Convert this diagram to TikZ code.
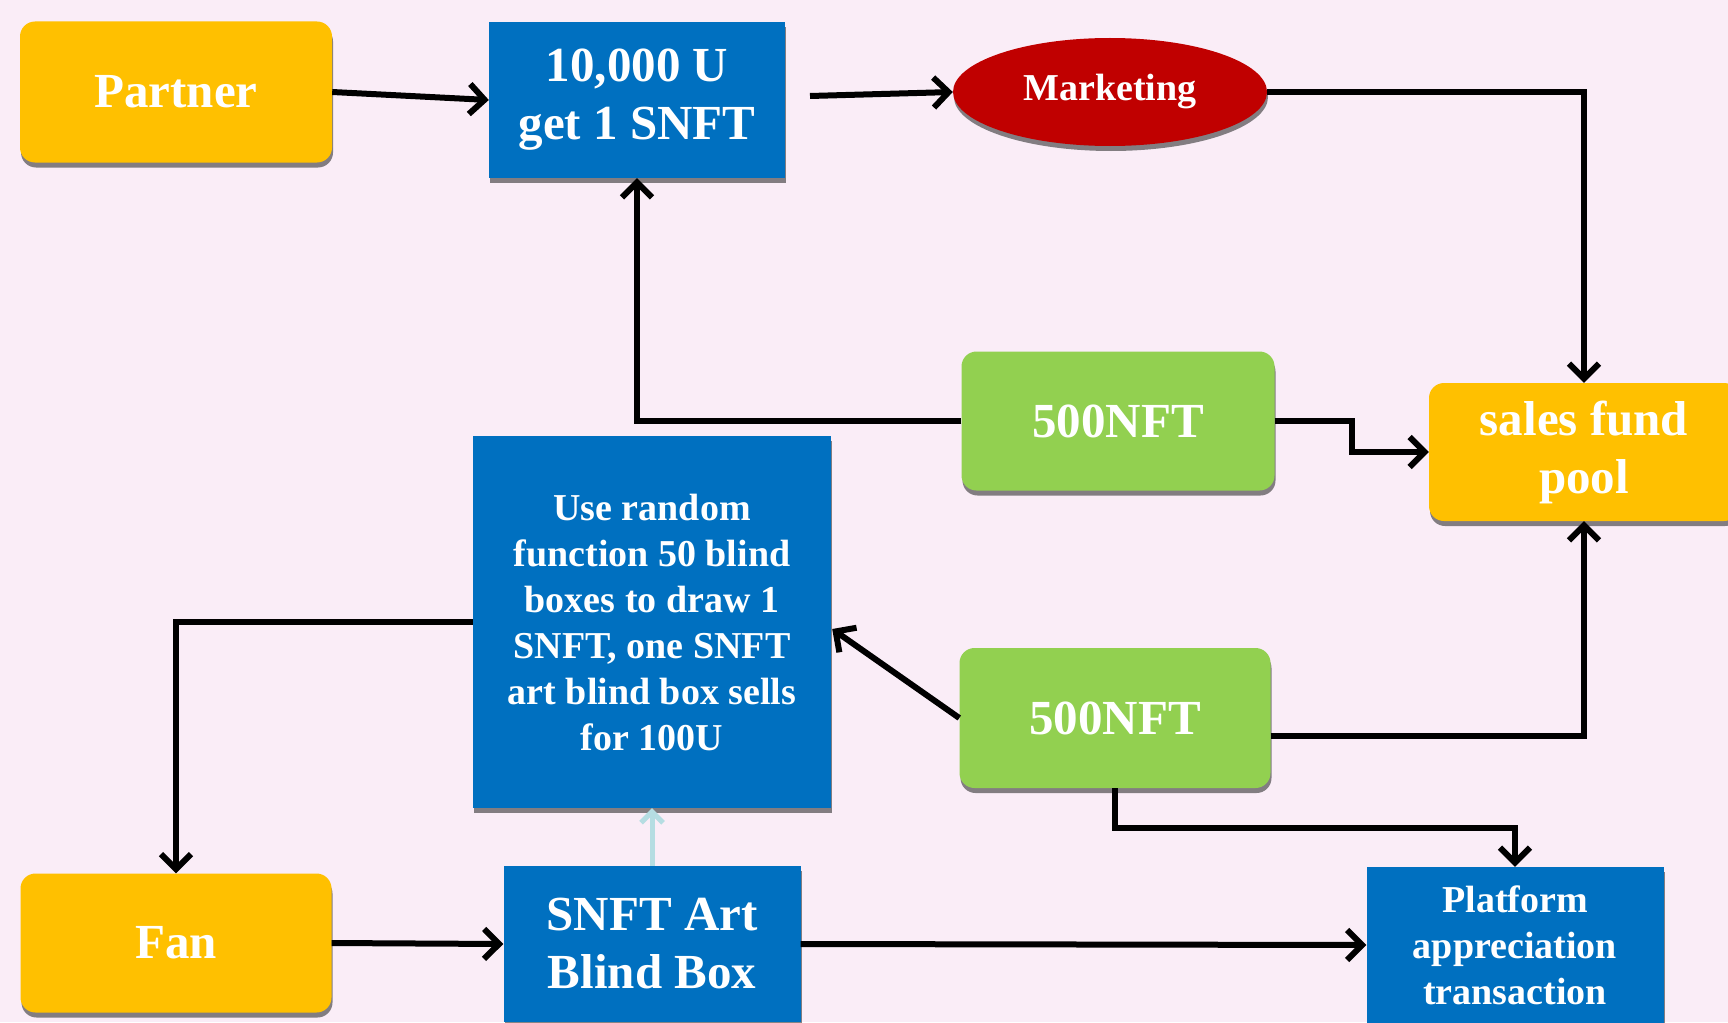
\documentclass[tikz,border=0pt]{standalone}
\usepackage{fontspec}
\setmainfont{Liberation Serif}
\usetikzlibrary{arrows.meta,shadows,shapes.geometric,calc}
\definecolor{bgc}{HTML}{FAEDF7}
\definecolor{orng}{HTML}{FFC000}
\definecolor{blu}{HTML}{0070C0}
\definecolor{redd}{HTML}{C00000}
\definecolor{grn}{HTML}{92D050}
\definecolor{cyanline}{HTML}{B5DDE2}
\begin{document}
\begin{tikzpicture}[x=1pt,y=-1pt,
  base/.style={draw=none, text=white, align=center, inner sep=0pt,
    font=\bfseries\fontsize{49}{58}\selectfont,
    drop shadow={shadow xshift=1pt, shadow yshift=-5pt, fill=black!80, opacity=0.6}},
  smallfont/.style={font=\bfseries\fontsize{38}{46}\selectfont},
  orangebox/.style={base, fill=orng, rounded corners=15pt},
  greenbox/.style={base, fill=grn, rounded corners=15pt},
  bluebox/.style={base, fill=blu},
  redell/.style={base, ellipse, fill=redd},
  conn/.style={line width=6pt, -{Straight Barb[length=15pt,width=30pt]}},
  cyanconn/.style={draw=cyanline, line width=5pt, -{Straight Barb[length=11pt,width=22pt]}}
]
\fill[bgc] (0,0) rectangle (1728,1022);
\useasboundingbox (0,0) rectangle (1728,1022);

\node[orangebox, minimum width=312pt, minimum height=141pt] (partner) at (176,92) {Partner};
\node[bluebox, minimum width=296pt, minimum height=156pt] (u10k) at (637,100) {10,000 U\\get 1 SNFT};
\node[redell, smallfont, minimum width=314pt, minimum height=108pt] (mkt) at (1110,92) {Marketing};
\node[greenbox, minimum width=313pt, minimum height=139pt] (nftA) at (1118,421) {500NFT};
\node[orangebox, minimum width=310pt, minimum height=138pt] (pool) at (1584,452) {sales fund\\pool};
\node[bluebox, smallfont, minimum width=358pt, minimum height=372pt] (rnd) at (652,622) {Use random\\function 50 blind\\boxes to draw 1\\SNFT, one SNFT\\art blind box sells\\for 100U};
\node[greenbox, minimum width=311pt, minimum height=140pt] (nftB) at (1115,718) {500NFT};
\node[orangebox, minimum width=311pt, minimum height=139pt] (fan) at (176,943) {Fan};
\node[bluebox, minimum width=297pt, minimum height=156pt] (blind) at (652,944) {SNFT Art\\Blind Box};
\node[bluebox, smallfont, minimum width=297pt, minimum height=156pt] (plat) at (1515,945) {Platform\\appreciation\\transaction};

\coordinate (m0) at (810,96);
\draw[conn] (partner.east) -- (u10k.west);
\draw[conn] (m0) -- (mkt.west);
\draw[conn] (mkt.east) -| (pool.north);
\draw[conn] (nftA.west) -| (u10k.south);
\draw[conn] (nftA.east) -- ++(77,0) |- (pool.west);
\draw[conn] (rnd.west) -| (fan.north);
\draw[conn] (nftB.west) -- ($(rnd.east)+(1,7)$);
\draw[conn] ($(nftB.east)+(0,18)$) -| (pool.south);
\draw[conn] (nftB.south) -- ++(0,40) -| (plat.north);
\draw[conn] (fan.east) -- (blind.west);
\draw[conn] (blind.east) -- (plat.west);
\draw[cyanconn] (blind.north) -- (rnd.south);
\end{tikzpicture}
\end{document}
